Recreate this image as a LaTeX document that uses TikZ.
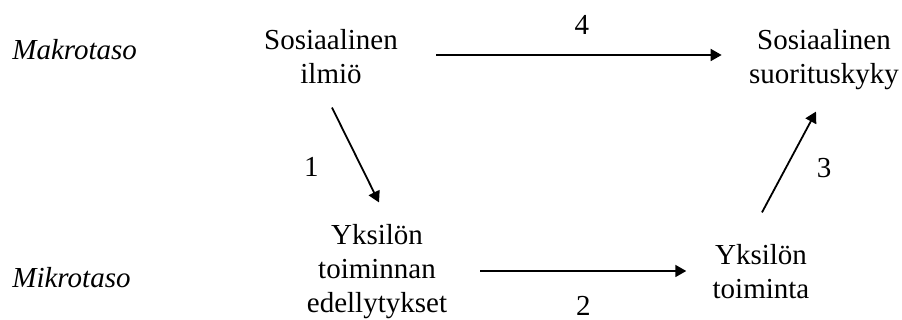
\documentclass[tikz,border=0pt]{standalone}
\usepackage{fontspec}
\setmainfont{Liberation Serif}
\usepackage{tikz}
\usetikzlibrary{arrows.meta, positioning}

\begin{document}
\begin{tikzpicture}[x=0.5pt, y=-0.5pt,
    txt/.style={align=center, inner sep=0pt, font=\fontsize{14.5}{17}\selectfont},
    lvl/.style={anchor=base west, inner sep=0pt, font=\fontsize{14.5}{17}\selectfont\itshape},
    num/.style={inner sep=0pt, font=\fontsize{14.5}{17}\selectfont},
    arr/.style={-{Triangle[length=5.5pt, width=6pt]}, line width=0.9pt}]
  \useasboundingbox (0,0) rectangle (902,320);
  % tasot
  \node[lvl] (makro) at (12,60) {Makrotaso};
  \node[lvl] (mikro) at (12,288) {Mikrotaso};
  % solmut
  \node[txt] (ilmio) at (331,57) {Sosiaalinen\\ilmiö};
  \node[txt] (suoritus) at (824,60) {Sosiaalinen\\suorituskyky};
  \node[txt] (edell) at (377,272) {Yksilön\\toiminnan\\edellytykset};
  \node[txt] (toiminta) at (761,272) {Yksilön\\toiminta};
  % nuolet
  \draw[arr] ([xshift=19pt, yshift=1pt]ilmio.east) -- ([xshift=-13.5pt, yshift=2.5pt]suoritus.west)
    node[num, midway, above=10pt, xshift=1.5pt] (n4) {4};
  \draw[arr] ([xshift=0.5pt, yshift=-11.5pt]ilmio.south) -- ([xshift=1pt, yshift=11pt]edell.north)
    node[num, midway, left=18pt, yshift=-6pt] (n1) {1};
  \draw[arr] ([xshift=16.5pt, yshift=0.5pt]edell.east) -- ([xshift=-13pt, yshift=0.5pt]toiminta.west)
    node[num, midway, below=12pt] (n2) {2};
  \draw[arr] ([xshift=0.5pt, yshift=16pt]toiminta.north) -- ([xshift=-4pt, yshift=-10.5pt]suoritus.south)
    node[num, midway, right=13.5pt, yshift=-3pt] (n3) {3};
\end{tikzpicture}
\end{document}
